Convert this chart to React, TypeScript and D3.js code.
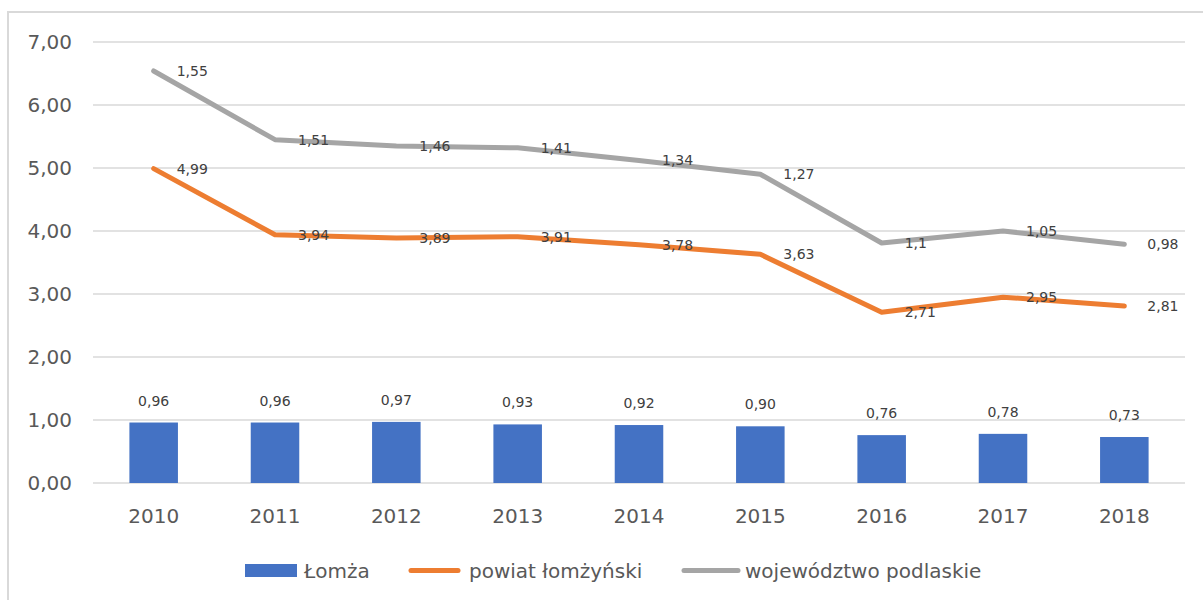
import React from "react";
import * as d3 from "d3";

const years = ["2010", "2011", "2012", "2013", "2014", "2015", "2016", "2017", "2018"];
const lomza = [0.96, 0.96, 0.97, 0.93, 0.92, 0.9, 0.76, 0.78, 0.73];
const powiat = [4.99, 3.94, 3.89, 3.91, 3.78, 3.63, 2.71, 2.95, 2.81];
const wojewodztwo = [1.55, 1.51, 1.46, 1.41, 1.34, 1.27, 1.1, 1.05, 0.98];
const yTicks = [0, 1, 2, 3, 4, 5, 6, 7];
const seriesNames = ["Łomża", "powiat łomżyński", "województwo podlaskie"];

const W = 1203;
const H = 600;
const FONT = "'DejaVu Sans', sans-serif";
const BLUE = "#4472C4";
const ORANGE = "#ED7D31";
const GRAY = "#A5A5A5";
const GRID = "#D9D9D9";

export default function App() {
  const x = d3.scaleBand<string>().domain(years).range([93, 1185]).padding(0);
  const y = d3.scaleLinear().domain([0, 7]).range([483, 42]);
  const cx = (d: string) => (x(d) as number) + x.bandwidth() / 2;
  const barW = x.bandwidth() * 0.4;

  const stacked = powiat.map((v, i) => v + wojewodztwo[i]);
  const line = d3
    .line<number>()
    .x((_, i) => cx(years[i]))
    .y((d) => y(d));

  const fmtLine = (v: number) => String(v).replace(".", ",");
  const fmtBar = (v: number) => v.toFixed(2).replace(".", ",");
  const fmtAxis = (v: number) => v.toFixed(2).replace(".", ",");

  return (
    <svg
      width={W}
      height={H}
      style={{ position: "absolute", left: 0, top: 0, background: "#fff" }}
      fontFamily={FONT}
    >
      <rect x={8} y={12} width={W + 20} height={H + 20} fill="#fff" stroke={GRID} strokeWidth={2} />

      {yTicks.map((t) => (
        <g key={t}>
          <line x1={93} x2={1185} y1={y(t)} y2={y(t)} stroke={GRID} strokeWidth={1.5} />
          <text x={72} y={y(t)} dy="0.36em" textAnchor="end" fontSize={20} fill="#595959">
            {fmtAxis(t)}
          </text>
        </g>
      ))}

      {years.map((yr) => (
        <text key={yr} x={cx(yr)} y={523} textAnchor="middle" fontSize={20} fill="#595959">
          {yr}
        </text>
      ))}

      {lomza.map((v, i) => (
        <g key={"b" + i}>
          <rect x={cx(years[i]) - barW / 2} y={y(v)} width={barW} height={y(0) - y(v)} fill={BLUE} />
          <text x={cx(years[i])} y={y(v) - 17} textAnchor="middle" fontSize={14} fill="#404040">
            {fmtBar(v)}
          </text>
        </g>
      ))}

      <path d={line(powiat) || ""} fill="none" stroke={ORANGE} strokeWidth={5} strokeLinejoin="round" strokeLinecap="round" />
      <path d={line(stacked) || ""} fill="none" stroke={GRAY} strokeWidth={5} strokeLinejoin="round" strokeLinecap="round" />

      {powiat.map((v, i) => (
        <text key={"p" + i} x={cx(years[i]) + 23} y={y(v)} dy="0.36em" fontSize={14} fill="#404040">
          {fmtLine(v)}
        </text>
      ))}
      {wojewodztwo.map((v, i) => (
        <text key={"w" + i} x={cx(years[i]) + 23} y={y(stacked[i])} dy="0.36em" fontSize={14} fill="#404040">
          {fmtLine(v)}
        </text>
      ))}

      <g>
        <rect x={245} y={564} width={52} height={13} fill={BLUE} />
        <text x={304} y={578} fontSize={20} fill="#595959">{seriesNames[0]}</text>
        <line x1={411} x2={458} y1={570.5} y2={570.5} stroke={ORANGE} strokeWidth={5} strokeLinecap="round" />
        <text x={469} y={578} fontSize={20} fill="#595959">{seriesNames[1]}</text>
        <line x1={684} x2={738} y1={570.5} y2={570.5} stroke={GRAY} strokeWidth={5} strokeLinecap="round" />
        <text x={745} y={578} fontSize={20} fill="#595959">{seriesNames[2]}</text>
      </g>
    </svg>
  );
}
